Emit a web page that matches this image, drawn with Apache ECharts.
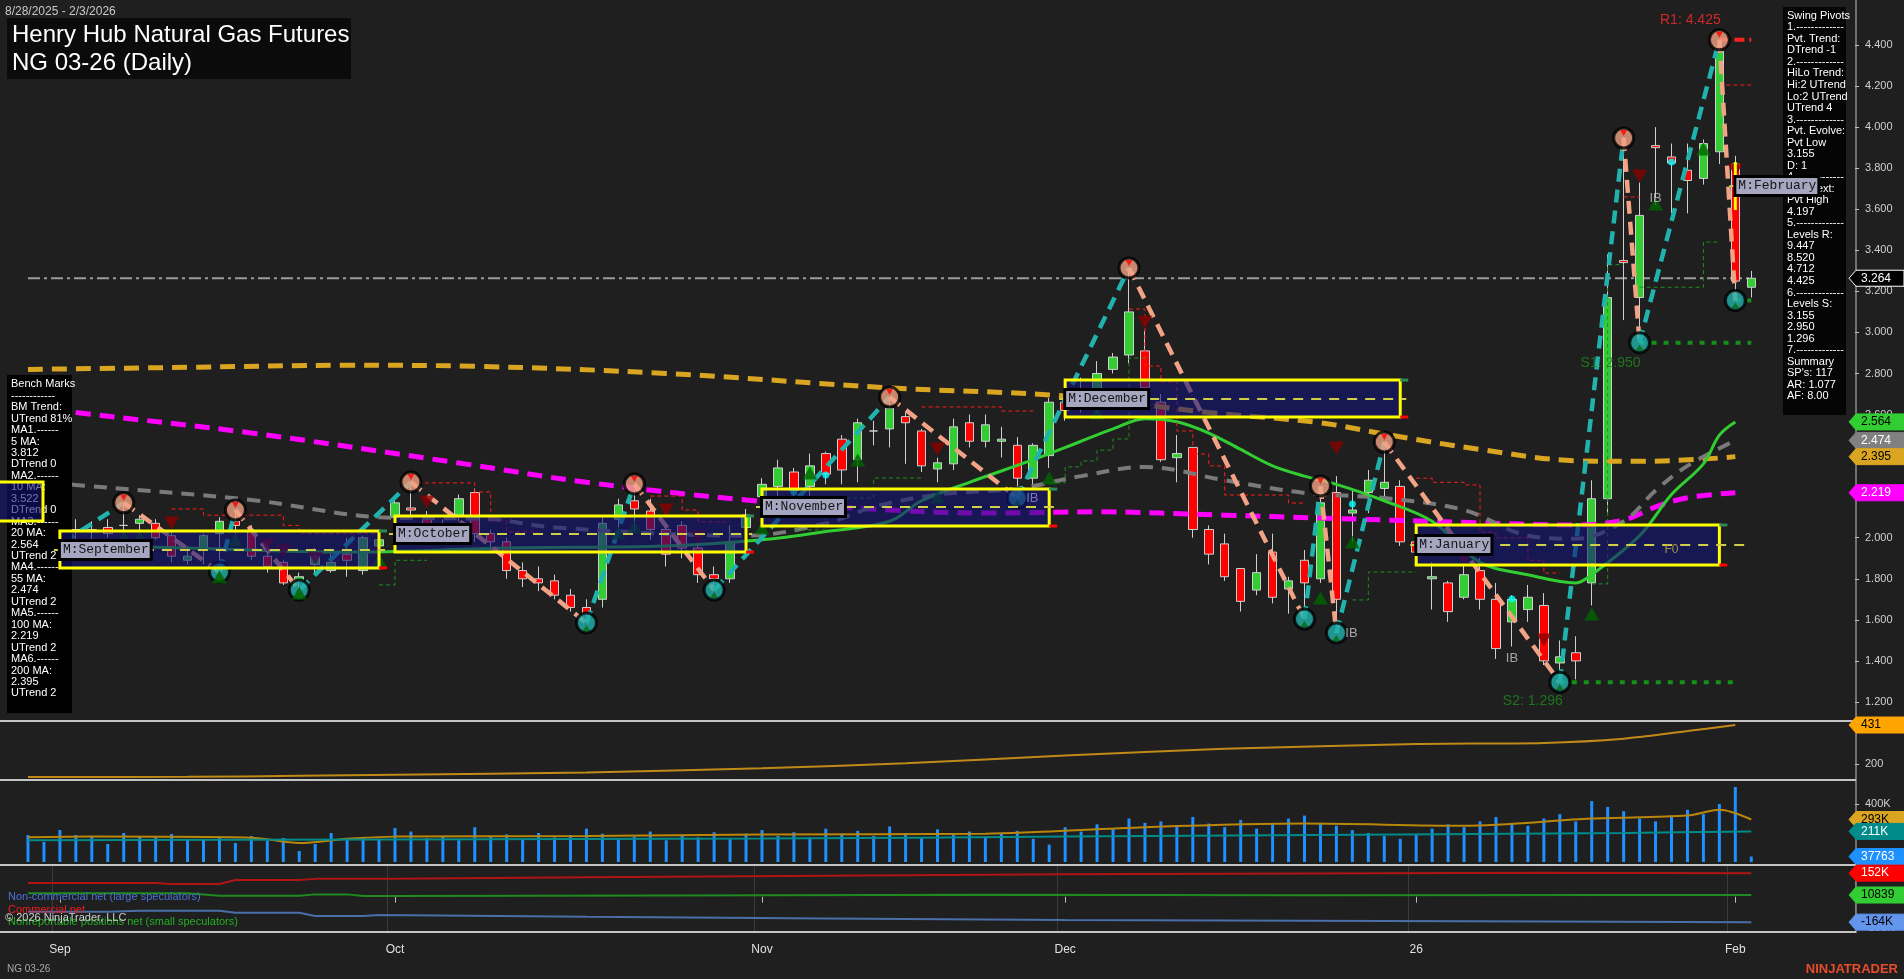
<!DOCTYPE html>
<html>
<head>
<meta charset="utf-8">
<title>NG 03-26 (Daily)</title>
<script src="https://cdn.jsdelivr.net/npm/echarts@6.0.0/dist/echarts.min.js"></script>
<style>
html,body{margin:0;padding:0;background:#1f1f1f;overflow:hidden;}
#chart{width:1904px;height:979px;}
</style>
</head>
<body>
<div id="chart"></div>
<script>
// ================= DATA =================
const tradingDays = [
  ['2025-08',[28,29]],
  ['2025-09',[2,3,4,5,8,9,10,11,12,15,16,17,18,19,22,23,24,25,26,29,30]],
  ['2025-10',[1,2,3,6,7,8,9,10,13,14,15,16,17,20,21,22,23,24,27,28,29,30,31]],
  ['2025-11',[3,4,5,6,7,10,11,12,13,14,17,18,19,20,21,24,25,26,28]],
  ['2025-12',[1,2,3,4,5,8,9,10,11,12,15,16,17,18,19,22,23,24,26,29,30,31]],
  ['2026-01',[2,5,6,7,8,9,12,13,14,15,16,20,21,22,23,26,27,28,29,30]],
  ['2026-02',[2,3]]
];
const monthLabels = {'2025-09':'Sep','2025-10':'Oct','2025-11':'Nov','2025-12':'Dec','2026-01':'26','2026-02':'Feb'};

const opens = [1.98,2.01,1.97,2.04,2.03,2.05,2.06,2.07,2.07,2.01,
 1.89,1.94,2.02,2.08,2.03,1.91,1.88,1.79,1.87,1.84,
 1.92,1.84,1.96,2.10,2.145,2.10,2.03,2.11,2.22,2.02,
 1.98,1.84,1.80,1.79,1.72,1.66,1.70,2.09,2.18,2.13,
 2.04,2.06,1.95,1.82,1.80,2.05,2.20,2.25,2.32,2.25,
 2.41,2.48,2.38,2.52,2.53,2.59,2.52,2.335,2.36,2.56,
 2.47,2.47,2.45,2.29,2.40,2.66,2.70,2.67,2.82,2.89,
 2.91,2.66,2.39,2.44,2.04,1.97,1.85,1.745,1.93,1.75,
 1.89,1.80,2.22,2.12,2.22,2.24,2.25,1.98,1.80,1.78,
 1.71,1.84,1.70,1.59,1.65,1.67,1.39,1.44,1.78,2.19,
 3.35,3.17,3.91,3.855,3.79,3.75,3.88,3.82,3.22];
const closes = [2.01,1.97,2.02,2.03,2.04,2.02,2.06,2.09,2.00,1.91,
 1.91,2.01,2.08,2.06,1.91,1.86,1.78,1.81,1.91,1.88,
 1.89,2.00,1.99,2.17,2.135,2.05,2.00,2.19,2.02,1.98,
 1.84,1.80,1.78,1.72,1.66,1.63,2.07,2.16,2.14,2.04,
 1.92,1.95,1.82,1.80,1.98,2.11,2.26,2.34,2.23,2.35,
 2.31,2.33,2.56,2.52,2.63,2.56,2.35,2.365,2.54,2.47,
 2.55,2.48,2.29,2.45,2.66,2.62,2.66,2.80,2.88,3.10,
 2.73,2.38,2.41,2.04,1.92,1.81,1.69,1.83,1.71,1.79,
 1.78,2.17,1.70,2.135,2.28,2.27,1.98,1.93,1.81,1.64,
 1.82,1.70,1.46,1.70,1.71,1.40,1.42,1.40,2.19,3.17,
 3.34,3.57,3.90,3.825,3.74,3.92,4.37,3.25,3.264];
const lows = [1.95,1.93,1.94,1.92,1.89,2.00,2.02,2.02,1.99,1.88,
 1.87,1.87,1.84,2.02,1.89,1.83,1.77,1.75,1.83,1.83,
 1.81,1.82,1.92,2.08,2.10,2.02,1.97,2.08,1.98,1.93,
 1.80,1.76,1.74,1.70,1.64,1.59,1.66,2.03,2.03,1.99,
 1.86,1.90,1.78,1.76,1.78,1.98,2.17,2.20,2.19,2.19,
 2.26,2.26,2.27,2.45,2.44,2.36,2.32,2.27,2.33,2.44,
 2.44,2.39,2.20,2.25,2.34,2.57,2.61,2.61,2.80,2.85,
 2.72,2.37,2.27,2.00,1.87,1.79,1.64,1.72,1.68,1.63,
 1.62,1.78,1.55,1.98,2.12,2.20,1.96,1.88,1.65,1.59,
 1.70,1.65,1.41,1.47,1.59,1.38,1.30,1.31,1.67,2.12,
 3.06,2.95,3.62,3.58,3.58,3.72,3.82,3.155,3.17];
const highs = [2.05,2.04,2.06,2.09,2.08,2.09,2.16,2.11,2.09,2.03,
 1.96,2.02,2.10,2.13,2.06,1.98,1.89,1.83,1.95,1.94,
 2.00,2.01,2.01,2.18,2.25,2.13,2.09,2.21,2.24,2.04,
 2.00,1.88,1.86,1.82,1.75,1.70,2.11,2.19,2.26,2.19,
 2.06,2.08,1.97,1.86,2.06,2.14,2.29,2.38,2.34,2.41,
 2.42,2.50,2.58,2.57,2.68,2.61,2.53,2.39,2.58,2.60,
 2.60,2.54,2.49,2.46,2.68,2.74,2.78,2.86,2.90,3.31,
 3.01,2.70,2.50,2.44,2.06,2.02,1.85,1.92,2.02,1.81,
 1.94,2.24,2.30,2.23,2.33,2.45,2.28,2.02,1.88,1.79,
 1.87,1.90,1.78,1.72,1.77,1.73,1.50,1.52,2.28,3.38,
 3.95,3.73,4.00,3.92,3.92,3.94,4.425,3.86,3.30];

const volumes = [186000,138000,221000,186000,172000,124000,200000,179000,172000,193000,
 159000,152000,166000,131000,179000,145000,166000,76000,124000,200000,
 166000,166000,159000,234000,210000,165000,180000,150000,240000,175000,
 190000,160000,200000,170000,185000,230000,195000,160000,175000,210000,
 150000,185000,170000,205000,160000,195000,220000,180000,205000,170000,
 230000,195000,215000,180000,245000,200000,170000,225000,190000,210000,
 175000,200000,215000,160000,120000,240000,210000,260000,230000,300000,
 270000,280000,250000,310000,265000,240000,290000,230000,260000,300000,
 320000,270000,250000,220000,200000,180000,160000,190000,230000,260000,
 240000,280000,310000,270000,250000,300000,330000,280000,420000,380000,
 350000,300000,280000,320000,360000,330000,400000,517000,37763];

// moving averages: [bar index, value]
const ma200 = [[0,2.82],[10,2.83],[20,2.84],[28,2.835],[40,2.80],[54,2.73],[65,2.69],[74,2.61],[81,2.56],[85,2.505],[91,2.43],[97,2.375],[101,2.372],[105,2.383],[107,2.395]];
const ma100 = [[0,2.64],[3,2.61],[14,2.51],[27,2.364],[35,2.27],[45,2.184],[54,2.135],[60,2.12],[67,2.126],[75,2.11],[81,2.096],[90,2.075],[97,2.062],[100,2.086],[102,2.15],[104,2.195],[107,2.219]];
const ma55 = [[0,2.28],[3,2.257],[14,2.184],[22,2.10],[29,2.09],[33,2.05],[45,2.01],[50,2.07],[53,2.15],[57,2.21],[62,2.24],[66,2.30],[70,2.345],[75,2.28],[80,2.218],[85,2.193],[90,2.135],[94,2.01],[97,1.995],[100,2.08],[102,2.23],[104,2.35],[107,2.474]];
const ma20 = [[0,1.97],[10,1.95],[20,1.93],[30,1.95],[40,1.96],[46,1.99],[50,2.03],[54,2.08],[56,2.18],[59,2.27],[63,2.38],[66,2.47],[68,2.53],[70,2.58],[72,2.565],[74,2.51],[76,2.43],[78,2.35],[80,2.30],[82,2.26],[85,2.18],[88,2.08],[91,1.88],[94,1.82],[97,1.78],[98,1.82],[101,2.01],[103,2.21],[105,2.36],[106,2.50],[107,2.564]];

// swing pivots
const pivotIdx   = [0,6,12,13,17,24,35,38,43,54,62,69,80,81,82,85,96,100,101,106,107];
const pivotPrice = [1.865,2.17,1.833,2.135,1.745,2.271,1.585,2.262,1.745,2.685,2.193,3.314,1.604,2.252,1.536,2.466,1.296,3.947,2.95,4.425,3.155];
const pivotKind  = ['L','H','L','H','L','H','L','H','L','H','L','H','L','H','L','H','L','H','L','H','L'];

// monthly boxes
const boxNames  = ['September','October','November','December','January','February'];
const boxStart  = [2,23,46,65,87,107];
const boxEnd    = [22,45,64,86,106,107];
const boxTop    = [2.033,2.106,2.237,2.768,2.062,3.83];
const boxBottom = [1.853,1.93,2.057,2.588,1.867,3.596];
const boxMid    = [1.94,2.018,2.15,2.676,1.965,3.713];

// trailing stop steps [bar index, price]
const redStops = [
 [[9,2.14],[11,2.14],[11,2.11],[16,2.11],[16,2.06],[17,2.06],[17,2.02],[22,2.02]],
 [[24,2.267],[28,2.267],[28,2.223],[29,2.223],[29,2.086],[30,2.086],[30,2.028],[32,2.028]],
 [[39,2.203],[41,2.203],[41,2.135],[42,2.135],[42,2.077],[44,2.077]],
 [[56,2.637],[61,2.637],[61,2.617],[63,2.617]],
 [[69,3.114],[70,3.114],[70,2.836],[71,2.836],[71,2.758],[72,2.758],[72,2.52],[73,2.52],[73,2.408],[74,2.408],[74,2.35],[75,2.35],[75,2.208],[79,2.208],[79,2.169],[80,2.169]],
 [[87,2.29],[88,2.29],[88,2.27],[90,2.27],[90,2.257],[91,2.257],[91,2.028],[92,2.028],[92,2.00],[94,2.00],[94,1.89],[95,1.89],[95,1.828],[96,1.828]],
 [[100,3.66],[101,3.66]],
 [[106,4.205],[108,4.205]]
];
const greenStops = [
 [[3,1.857],[5,1.857]],
 [[22,1.77],[23,1.77],[23,1.89],[25,1.89]],
 [[48,2.038],[50,2.038],[50,2.193],[53,2.193],[53,2.291],[56,2.291]],
 [[64,2.267],[65,2.267],[65,2.345],[66,2.345],[66,2.374],[67,2.374],[67,2.427],[68,2.427],[68,2.481],[69,2.481],[69,2.875],[70,2.875]],
 [[83,1.697],[84,1.697],[84,1.833],[87,1.833]],
 [[98,1.775],[99,1.775],[99,3.33],[100,3.33]],
 [[101,3.22],[105,3.22],[105,3.44],[106,3.44]]
];
const supportS1 = [[101,2.95],[108,2.95]];
const supportS2 = [[96,1.296],[107,1.296]];
const supportLast = [[107,3.155],[108,3.155]];
const resistR1 = [[106,4.425],[108,4.425]];

// signal triangles [bar index, price]
const downTriangles = [[9,2.072],[15,1.965],[16,1.935],[18,1.90],[25,2.174],[40,2.135],[42,2.003],[57,2.432],[70,3.05],[82,2.437],[90,1.90],[95,1.502],[101,3.762],[107,3.79]];
const upTriangles = [[6,2.003],[7,2.003],[12,1.81],[13,1.989],[17,1.731],[22,1.891],[37,2.023],[38,2.052],[46,2.047],[49,2.315],[52,2.379],[57,2.198],[64,2.291],[67,2.608],[81,1.706],[83,1.979],[98,1.628],[102,3.626],[105,3.893]];
const cyanDots = [[48,2.223],[50,2.305],[83,2.164],[93,1.702],[103,3.83]];
const ibMarks = [[62,2.193],[82,1.536],[93,1.414],[102,3.655]];

// sub panes
const pane2Line = [[0,123],[10,124],[17,130],[23,137],[35,150],[46,175],[55,205],[65,250],[75,290],[87,318],[95,325],[100,350],[104,395],[107,431]];
const volMA = [[0,170000],[4,175000],[14,168000],[17,131000],[20,160000],[23,175000],[35,180000],[46,190000],[60,195000],[70,240000],[80,265000],[90,250000],[98,300000],[104,320000],[106,360000],[108,293000]];
const volAvg = [[0,150000],[23,155000],[46,162000],[65,175000],[86,190000],[100,200000],[108,211000]];
const cotCommercial = [[0,88000],[8,88000],[9,82000],[12,82000],[13,108000],[17,108000],[18,115000],[23,115000],[35,125000],[50,135000],[65,145000],[80,150000],[95,155000],[108,152000]];
const cotSmall = [[0,22000],[10,22000],[12,6000],[17,6000],[18,15000],[20,15000],[21,4000],[23,4000],[40,8000],[60,12000],[80,9000],[100,11000],[108,10839]];
const cotLarge = [[0,-97000],[5,-97000],[7,-90000],[12,-90000],[13,-103000],[17,-103000],[18,-124000],[21,-124000],[22,-118000],[35,-130000],[50,-140000],[65,-150000],[80,-155000],[95,-160000],[108,-164000]];

// axis tick labels
const priceTicks = [1.2,1.4,1.6,1.8,2.0,2.2,2.4,2.6,2.8,3.0,3.2,3.4,3.6,3.8,4.0,4.2,4.4];
const pane2Ticks = [200];
const volTicks = [400000];
const cotTicks = [-200000];

const benchLines = ['Bench Marks','------------','BM Trend:','UTrend 81%','MA1.------','5 MA:','3.812','DTrend 0','MA2.------','10 MA:','3.522','DTrend 0','MA3.------','20 MA:','2.564','UTrend 2','MA4.------','55 MA:','2.474','UTrend 2','MA5.------','100 MA:','2.219','UTrend 2','MA6.------','200 MA:','2.395','UTrend 2'];
const swingLines = ['Swing Pivots','1.-------------','Pvt. Trend:','DTrend -1','2.-------------','HiLo Trend:','Hi:2 UTrend','Lo:2 UTrend','UTrend 4','3.-------------','Pvt. Evolve:','Pvt Low','3.155','D: 1','4.-------------','Pvt. Next:','Pvt High','4.197','5.-------------','Levels R:','9.447','8.520','4.712','4.425','6.-------------','Levels S:','3.155','2.950','1.296','7.-------------','Summary',"SP's: 117",'AR: 1.077','AF: 8.00'];

// ================= CHART =================
const FONT = '"Liberation Sans", Arial, sans-serif';
const chart = echarts.init(document.getElementById('chart'), null, {width:1904, height:979});

const cats = [];
const monthStart = {};
tradingDays.forEach(([ym, days]) => {
  days.forEach((d, k) => {
    if (k === 0 && monthLabels[ym]) monthStart[cats.length] = monthLabels[ym];
    cats.push(ym + '-' + String(d).padStart(2, '0'));
  });
});
for (let k = 1; k <= 6; k++) cats.push('pad' + k);
const isMonth = (i) => monthStart[i] !== undefined;

function xAx(gi, show) {
  return {
    type:'category', gridIndex:gi, data:cats, boundaryGap:true,
    axisLine:{show:false},
    axisTick:{show:show, alignWithLabel:true, interval:isMonth, length:6, lineStyle:{color:'#bdbdbd'}},
    axisLabel:{show:show, interval:isMonth, formatter:(v, i) => monthStart[i] || '', color:'#e0e0e0', fontSize:12, fontFamily:FONT, margin:12},
    splitLine:{show:gi === 3, interval:isMonth, lineStyle:{color:'#3a3a3a'}}
  };
}
function yAx(gi, min, max, ticks, fmt) {
  return {
    type:'value', gridIndex:gi, position:'right', min:min, max:max,
    axisLine:{show:false}, splitLine:{show:false},
    axisTick:{show:true, customValues:ticks, length:4, lineStyle:{color:'#bdbdbd'}},
    axisLabel:{customValues:ticks, formatter:fmt, color:'#d0d0d0', fontSize:11, fontFamily:FONT, margin:10}
  };
}

const series = [];
// candles
series.push({
  type:'candlestick', xAxisIndex:0, yAxisIndex:0, z:2, barWidth:9, silent:true,
  data: opens.map((o, i) => [o, closes[i], lows[i], highs[i]]),
  itemStyle:{color:'#32cd32', color0:'#ff0000', borderColor:'#cfcfcf', borderColor0:'#cfcfcf', borderColorDoji:'#cfcfcf', borderWidth:1}
});
// last price line
series.push({type:'line', xAxisIndex:0, yAxisIndex:0, z:2, silent:true, symbol:'none',
  data:[[0, closes[closes.length-1]], [closes.length-1, closes[closes.length-1]]],
  lineStyle:{color:'#9c9c9c', width:2, type:[12,4,3,4]}});
// moving averages
function maSeries(data, color, width, dash) {
  return {type:'line', xAxisIndex:0, yAxisIndex:0, z:3, silent:true, symbol:'none', smooth:0.35, data:data,
    lineStyle:{color:color, width:width, type:dash || 'solid', cap:'butt'}};
}
series.push(maSeries(ma200, '#daa520', 5, [15,9]));
series.push(maSeries(ma100, '#ff00ff', 5, [15,9]));
series.push(maSeries(ma55, '#7a7a7a', 4, [13,9]));
series.push(maSeries(ma20, '#32cd32', 3));
// trailing stops
redStops.forEach(d => series.push({type:'line', xAxisIndex:0, yAxisIndex:0, z:3, silent:true, symbol:'none', data:d, lineStyle:{color:'#ff1a1a', width:1, type:[4,3]}}));
greenStops.forEach(d => series.push({type:'line', xAxisIndex:0, yAxisIndex:0, z:3, silent:true, symbol:'none', data:d, lineStyle:{color:'#1f8f1f', width:1, type:[4,3]}}));
// support / resistance
[supportS1, supportS2, supportLast].forEach(d => series.push({type:'line', xAxisIndex:0, yAxisIndex:0, z:4, silent:true, symbol:'none', data:d, lineStyle:{color:'#14901a', width:4, type:[5,7]}}));
series.push({type:'line', xAxisIndex:0, yAxisIndex:0, z:4, silent:true, symbol:'none', data:resistR1, lineStyle:{color:'#ff2020', width:4, type:[10,5]}});
// zigzag
for (let k = 0; k < pivotIdx.length - 1; k++) {
  const up = pivotKind[k] === 'L';
  series.push({type:'line', xAxisIndex:0, yAxisIndex:0, z:5, silent:true, symbol:'none',
    data:[[pivotIdx[k], pivotPrice[k]], [pivotIdx[k+1], pivotPrice[k+1]]],
    lineStyle:{color: up ? '#22b2ad' : '#f2a285', width:4.5, type:[13,8]}});
}
// pivot circles
const hiPts = [], loPts = [];
pivotIdx.forEach((ix, k) => (pivotKind[k] === 'H' ? hiPts : loPts).push([ix, pivotPrice[k]]));
series.push({type:'scatter', xAxisIndex:0, yAxisIndex:0, z:6, silent:true, symbol:'circle', symbolSize:20, data:hiPts,
  itemStyle:{color:'#f2a285', borderColor:'#000', borderWidth:3}});
series.push({type:'scatter', xAxisIndex:0, yAxisIndex:0, z:6, silent:true, symbol:'circle', symbolSize:20, data:loPts,
  itemStyle:{color:'#22b2ad', borderColor:'#000', borderWidth:3}});
series.push({type:'scatter', xAxisIndex:0, yAxisIndex:0, z:7, silent:true, symbol:'triangle', symbolRotate:180, symbolSize:[7,6], symbolOffset:[0,-5], data:hiPts,
  itemStyle:{color:'#ff0000'}});
series.push({type:'scatter', xAxisIndex:0, yAxisIndex:0, z:7, silent:true, symbol:'triangle', symbolSize:[8,6], symbolOffset:[0,5], data:loPts,
  itemStyle:{color:'#0a6a0a'}});
// signal triangles
series.push({type:'scatter', xAxisIndex:0, yAxisIndex:0, z:6, silent:true, symbol:'triangle', symbolRotate:180, symbolSize:[15,13], data:downTriangles, itemStyle:{color:'#8b0000'}});
series.push({type:'scatter', xAxisIndex:0, yAxisIndex:0, z:6, silent:true, symbol:'triangle', symbolSize:[15,13], data:upTriangles, itemStyle:{color:'#006400'}});
series.push({type:'scatter', xAxisIndex:0, yAxisIndex:0, z:6, silent:true, symbol:'circle', symbolSize:7, data:cyanDots, itemStyle:{color:'#00ffff'}});
// monthly boxes (overlay)
series.push({
  type:'custom', xAxisIndex:0, yAxisIndex:0, z:30, silent:true, clip:false,
  data: boxNames.map((n, i) => [boxStart[i], boxEnd[i], boxTop[i], boxBottom[i], boxMid[i]]),
  renderItem: (params, api) => {
    const i = params.dataIndex;
    const a = api.coord([api.value(0), api.value(2)]);
    const b = api.coord([api.value(1), api.value(3)]);
    const m = api.coord([api.value(0), api.value(4)]);
    const x0 = a[0], y0 = a[1], x1 = b[0], y1 = b[1], ym = m[1];
    const bw = api.size([1, 0])[0];
    const ext = i === 4 ? 2 * bw : (i === 5 ? 3 : 6);
    const kids = [
      {type:'rect', shape:{x:x0, y:y0, width:x1 - x0, height:y1 - y0}, style:{fill: i === 5 ? 'none' : 'rgba(18,18,120,0.6)', stroke:'#ffff00', lineWidth:3}},
      {type:'line', shape:{x1:x0 - 6, y1:ym, x2:x1 + ext, y2:ym}, style:{stroke:'#d0cf4a', lineWidth:2, lineDash:[10,8]}}
    ];
    if (i < 5) {
      kids.push({type:'line', shape:{x1:x1, y1:y1, x2:x1 + 8, y2:y1}, style:{stroke:'#ff0000', lineWidth:3}});
      kids.push({type:'line', shape:{x1:x1, y1:y0, x2:x1 + 8, y2:y0}, style:{stroke:'#2e8b57', lineWidth:3}});
    }
    kids.push({type:'text', x:x0 + 1, y:ym, style:{text:'M:' + boxNames[i], font:'13px "Liberation Mono", "DejaVu Sans Mono", monospace', fill:'#151515',
      backgroundColor:'#a6a6c0', borderColor:'#000', borderWidth:3, padding:[2,1,1,2], verticalAlign:'middle', align:'left'}});
    return {type:'group', children:kids};
  }
});
// level labels
const rIdx = pivotIdx.length - 2;
const levelLabels = [
  {v:[pivotIdx[rIdx], pivotPrice[rIdx]], t:'R1: ' + pivotPrice[rIdx].toFixed(3), c:'#ff2a2a', off:[-29,-20]},
  {v:[pivotIdx[18], pivotPrice[18]], t:'S1: ' + pivotPrice[18].toFixed(3), c:'#1e8a1e', off:[-29,20]},
  {v:[pivotIdx[16], pivotPrice[16]], t:'S2: ' + pivotPrice[16].toFixed(3), c:'#1e8a1e', off:[-27,19]}
];
series.push({type:'scatter', xAxisIndex:0, yAxisIndex:0, z:35, silent:true, symbolSize:1,
  itemStyle:{color:'rgba(0,0,0,0)'},
  data: levelLabels.map(l => ({value:l.v, label:{show:true, position:'inside', formatter:l.t, color:l.c, fontSize:14, fontFamily:FONT, offset:l.off}}))});
series.push({type:'scatter', xAxisIndex:0, yAxisIndex:0, z:35, silent:true, symbolSize:1,
  itemStyle:{color:'rgba(0,0,0,0)'},
  data: ibMarks.map((p, k) => ({value:p, label:{show:true, position:'inside', formatter:'IB', color: k === 0 ? '#8e8ed6' : '#c4c4cc', fontSize:13, fontFamily:FONT, offset:[k < 2 ? 15 : 0, 0]}}))
    .concat([{value:[103, 1.94], label:{show:true, position:'inside', formatter:'F0', color:'#c8b040', fontSize:12, fontFamily:FONT}}])});
// pane 2
series.push({type:'line', xAxisIndex:1, yAxisIndex:1, z:3, silent:true, symbol:'none', smooth:0.3, data:pane2Line, lineStyle:{color:'#c08a18', width:2}});
// volume
series.push({type:'bar', xAxisIndex:2, yAxisIndex:2, z:2, silent:true, barWidth:3, data:volumes, itemStyle:{color:'#1e90ff'}});
series.push({type:'line', xAxisIndex:2, yAxisIndex:2, z:3, silent:true, symbol:'none', smooth:0.3, data:volMA, lineStyle:{color:'#b8860b', width:2}});
series.push({type:'line', xAxisIndex:2, yAxisIndex:2, z:3, silent:true, symbol:'none', smooth:0.3, data:volAvg, lineStyle:{color:'#008b8b', width:2}});
// COT
series.push({type:'line', xAxisIndex:3, yAxisIndex:3, z:3, silent:true, symbol:'none', data:cotCommercial, lineStyle:{color:'#b01515', width:2}});
series.push({type:'line', xAxisIndex:3, yAxisIndex:3, z:3, silent:true, symbol:'none', data:cotSmall, lineStyle:{color:'#1f8a1f', width:2}});
series.push({type:'line', xAxisIndex:3, yAxisIndex:3, z:3, silent:true, symbol:'none', data:cotLarge, lineStyle:{color:'#4a6ea8', width:2}});

const kfmt = v => (v / 1000).toFixed(0) + 'K';
const option = {
  animation:false,
  backgroundColor:'#1f1f1f',
  grid:[
    {left:20, width:1835, top:0, height:721},
    {left:20, width:1835, top:721, height:59},
    {left:20, width:1835, top:780, height:85},
    {left:20, width:1835, top:865, height:67}
  ],
  xAxis:[xAx(0,false), xAx(1,false), xAx(2,false), xAx(3,true)],
  yAxis:[
    yAx(0, 1.1073, 4.6192, priceTicks, v => v.toFixed(3)),
    yAx(1, 105.2, 454.7, pane2Ticks, v => String(v)),
    yAx(2, -20690, 565517, volTicks, kfmt),
    yAx(3, -227700, 204500, cotTicks, kfmt)
  ],
  series:series
};
chart.setOption(option);

// ---------- annotations (positions from the chart's own scales) ----------
const yPix = (ax, v) => chart.convertToPixel({yAxisIndex:ax}, v);
const G = [];
function tag(ax, v, text, fill, color, stroke) {
  const y = yPix(ax, v);
  G.push({type:'polygon', z:40, shape:{points:[[1849,y],[1856,y-8],[1904,y-8],[1904,y+8],[1856,y+8]]}, style:{fill:fill, stroke:stroke || fill, lineWidth:1}});
  G.push({type:'text', z:41, x:1861, y:y, style:{text:text, fill:color, font:'12px ' + FONT, verticalAlign:'middle', align:'left'}});
}
const lastClose = closes[closes.length - 1];
tag(0, lastClose, lastClose.toFixed(3), '#000000', '#ffffff', '#ffffff');
tag(0, ma20[ma20.length-1][1], ma20[ma20.length-1][1].toFixed(3), '#32cd32', '#000000');
tag(0, ma55[ma55.length-1][1], ma55[ma55.length-1][1].toFixed(3), '#808080', '#ffffff');
tag(0, ma200[ma200.length-1][1], ma200[ma200.length-1][1].toFixed(3), '#daa520', '#000000');
tag(0, ma100[ma100.length-1][1], ma100[ma100.length-1][1].toFixed(3), '#ff00ff', '#ffffff');
tag(1, pane2Line[pane2Line.length-1][1], String(pane2Line[pane2Line.length-1][1]), '#ffa500', '#000000');
tag(2, volMA[volMA.length-1][1], kfmt(volMA[volMA.length-1][1]), '#daa520', '#000000');
tag(2, volAvg[volAvg.length-1][1], kfmt(volAvg[volAvg.length-1][1]), '#008b8b', '#ffffff');
tag(2, volumes[volumes.length-1], String(volumes[volumes.length-1]), '#1e90ff', '#ffffff');
tag(3, cotCommercial[cotCommercial.length-1][1], kfmt(cotCommercial[cotCommercial.length-1][1]), '#ff0000', '#ffffff');
tag(3, cotSmall[cotSmall.length-1][1], String(cotSmall[cotSmall.length-1][1]), '#32cd32', '#000000');
tag(3, cotLarge[cotLarge.length-1][1], kfmt(cotLarge[cotLarge.length-1][1]), '#6495ed', '#000000');

// layout pieces
G.push({type:'rect', z:20, shape:{x:7, y:18, width:344, height:61}, style:{fill:'#0b0b0b'}});
G.push({type:'text', z:21, x:12, y:35, style:{text:'Henry Hub Natural Gas Futures', fill:'#ffffff', font:'24px ' + FONT, verticalAlign:'middle'}});
G.push({type:'text', z:21, x:12, y:63, style:{text:'NG 03-26 (Daily)', fill:'#ffffff', font:'24px ' + FONT, verticalAlign:'middle'}});
G.push({type:'text', z:21, x:5, y:12, style:{text:'8/28/2025 - 2/3/2026', fill:'#c8c8c8', font:'12px ' + FONT, verticalAlign:'middle'}});
G.push({type:'rect', z:20, shape:{x:7, y:375, width:65, height:338}, style:{fill:'#000000'}});
G.push({type:'text', z:21, x:11, y:378.5, style:{text:benchLines.join('\n'), fill:'#ffffff', font:'11px ' + FONT, lineHeight:11.45, verticalAlign:'top'}});
G.push({type:'rect', z:36, shape:{x:-3, y:482, width:46, height:39}, style:{fill:'rgba(18,18,120,0.6)', stroke:'#ffff00', lineWidth:3}});
G.push({type:'rect', z:20, shape:{x:1783, y:7, width:63, height:408}, style:{fill:'#050505'}});
G.push({type:'text', z:21, x:1787, y:10, style:{text:swingLines.join('\n'), fill:'#ffffff', font:'11px ' + FONT, lineHeight:11.53, verticalAlign:'top'}});
[721, 780, 865, 932].forEach(y => G.push({type:'line', z:15, shape:{x1:0, y1:y, x2:1856, y2:y}, style:{stroke:'#c4c4c4', lineWidth:2}}));
G.push({type:'line', z:15, shape:{x1:1856, y1:0, x2:1856, y2:933}, style:{stroke:'#c4c4c4', lineWidth:1}});
G.push({type:'text', z:21, x:8, y:897, style:{text:'Non-commercial net (large speculators)', fill:'#4a72dc', font:'11px ' + FONT, verticalAlign:'middle'}});
G.push({type:'text', z:21, x:8, y:910, style:{text:'Commercial net', fill:'#ee1c1c', font:'11px ' + FONT, verticalAlign:'middle'}});
G.push({type:'text', z:21, x:8, y:922, style:{text:'Nonreportable positions net (small speculators)', fill:'#22b022', font:'11px ' + FONT, verticalAlign:'middle'}});
G.push({type:'text', z:22, x:5, y:918, style:{text:'\u00a9 2026 NinjaTrader, LLC', fill:'#cfcfcf', font:'11px ' + FONT, verticalAlign:'middle'}});
G.push({type:'text', z:21, x:7, y:969, style:{text:'NG 03-26', fill:'#a8a8a8', font:'10px ' + FONT, verticalAlign:'middle'}});
G.push({type:'text', z:21, x:1898, y:969, style:{text:'NINJATRADER', fill:'#e84c2c', font:'bold 13px ' + FONT, verticalAlign:'middle', align:'right'}});

chart.setOption({graphic:G});
</script>
</body>
</html>
